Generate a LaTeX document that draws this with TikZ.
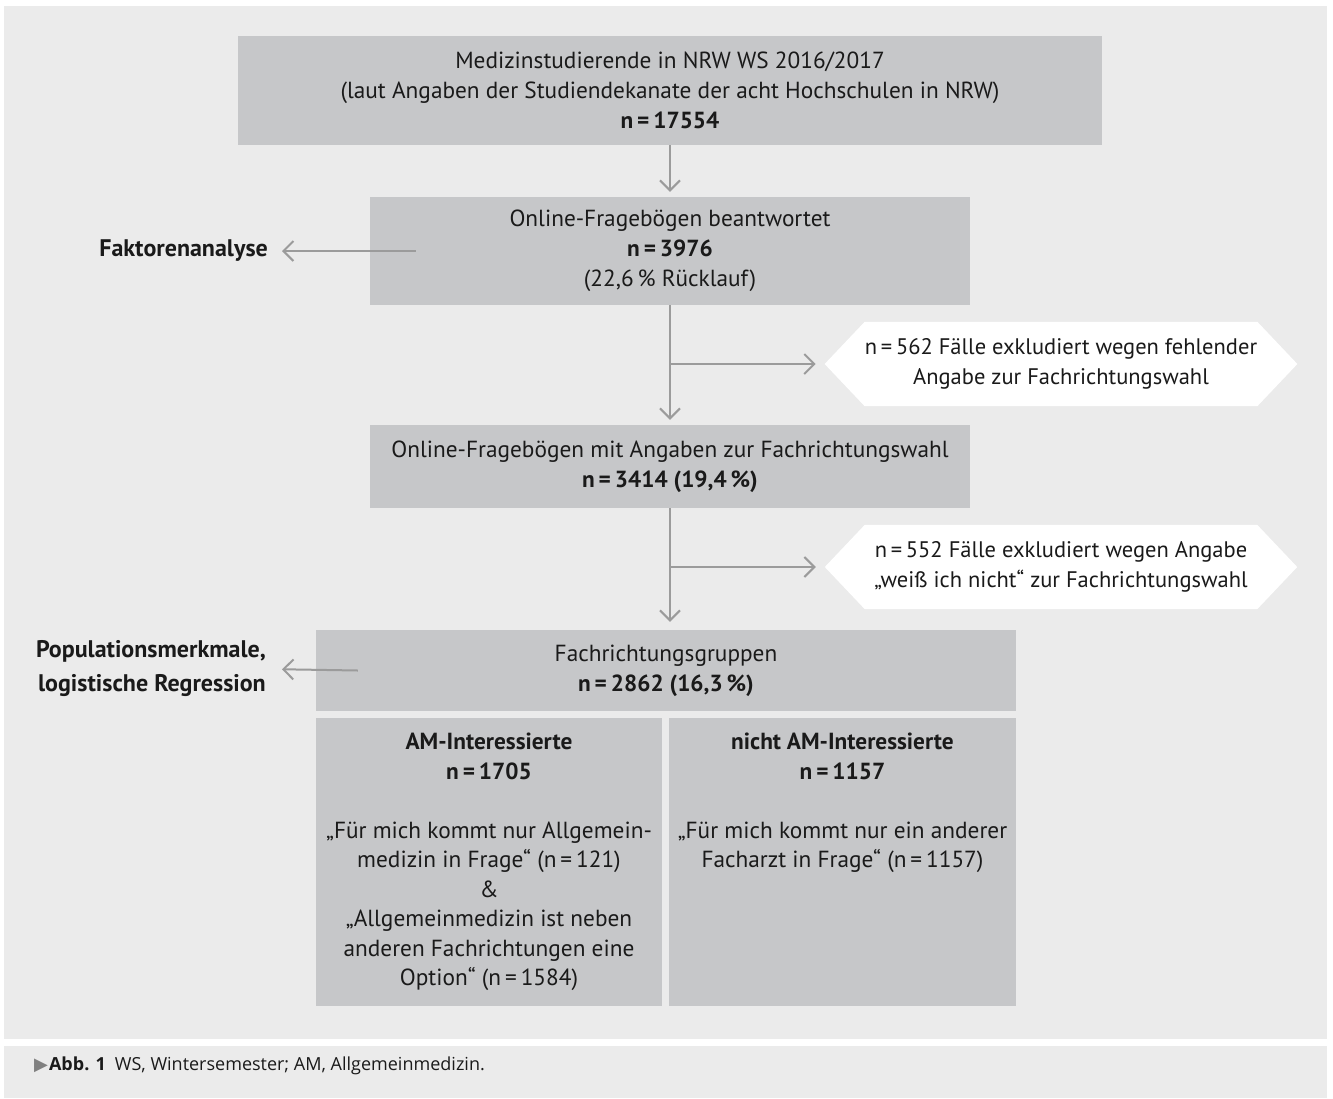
\documentclass[tikz,border=0pt]{standalone}
\usepackage{fontspec}
\setmainfont{PT Sans}
\newfontfamily\capfont{Open Sans}
\newfontfamily\symfont{DejaVu Sans}
\usetikzlibrary{arrows.meta,backgrounds}
\definecolor{panel}{HTML}{EBEBEB}
\definecolor{boxgray}{HTML}{C6C7C9}
\definecolor{arrowgray}{HTML}{9B9B9B}
\definecolor{txt}{HTML}{1A1A1A}
\begin{document}
\begin{tikzpicture}[x=1pt,y=-1pt,
  mainfont/.style={font=\fontsize{23.3}{30}\selectfont},
  box/.style={fill=boxgray, inner sep=0pt, align=center, text=txt, mainfont},
  hexbox/.style={inner sep=0pt, minimum height=84pt, minimum width=392pt, align=center, text=txt,
    font=\fontsize{22.5}{30}\selectfont},
  hexfill/.style={fill=white},
  flow/.style={draw=arrowgray, line width=2pt, -{Straight Barb[length=10pt,width=20pt,line width=2pt]}},
  side/.style={font=\fontsize{24}{34}\selectfont\bfseries, text=txt, align=right, inner sep=0pt},
  coltext/.style={inner sep=0pt, align=center, text=txt, font=\fontsize{23.3}{29.5}\selectfont}
]
\path[use as bounding box] (0,0) rectangle (1333,1098);

\node[box, minimum width=864pt, minimum height=109pt] (b1) at (670,90.5)
  {Medizinstudierende in NRW WS 2016/2017\\(laut Angaben der Studiendekanate der acht Hochschulen in NRW)\\\textbf{n\,=\,17554}};
\node[box, minimum width=600pt, minimum height=108pt] (b2) at (670,251)
  {Online-Fragebögen beantwortet\\\textbf{n\,=\,3976}\\(22,6\,\% Rücklauf)};
\node[box, minimum width=600pt, minimum height=83pt] (b3) at (670,466.5)
  {Online-Fragebögen mit Angaben zur Fachrichtungswahl\\\textbf{n\,=\,3414 (19,4\,\%)}};
\node[box, minimum width=700pt, minimum height=81pt] (b4) at (666,670.5)
  {Fachrichtungsgruppen\\\textbf{n\,=\,2862 (16,3\,\%)}};
\node[box, minimum width=346pt, minimum height=288pt] (am) at (489,862) {};
\node[box, minimum width=347pt, minimum height=288pt] (nam) at (842.5,862) {};
\node[coltext, anchor=north] (amt) at (489,733)
  {\textbf{AM-Interessierte}\\\textbf{n\,=\,1705}\\[29.5pt]„Für mich kommt nur Allgemein-\\medizin in Frage“ (n\,=\,121)\\\&\\„Allgemeinmedizin ist neben\\anderen Fachrichtungen eine\\Option“ (n\,=\,1584)};
\node[coltext, anchor=north] (namt) at (842.5,733)
  {\textbf{nicht AM-Interessierte}\\\textbf{n\,=\,1157}\\[29.5pt]„Für mich kommt nur ein anderer\\Facharzt in Frage“ (n\,=\,1157)};

\node[hexbox] (ex1) at (1061,364)
  {n\,=\,562 Fälle exkludiert wegen fehlender\\Angabe zur Fachrichtungswahl};
\node[hexbox] (ex2) at (1061,567)
  {n\,=\,552 Fälle exkludiert wegen Angabe\\„weiß ich nicht“ zur Fachrichtungswahl};
\coordinate (ex1tip) at ([xshift=-40pt]ex1.west);
\coordinate (ex2tip) at ([xshift=-40pt]ex2.west);

\begin{scope}[on background layer]
  \fill[panel] (4,6) rectangle (1327,1039);
  \fill[panel] (4,1046) rectangle (1327,1098);
  \fill[hexfill] (ex1.north west) -- (ex1.north east) -- ([xshift=40pt]ex1.east) -- (ex1.south east)
    -- (ex1.south west) -- (ex1tip) -- cycle;
  \fill[hexfill] (ex2.north west) -- (ex2.north east) -- ([xshift=40pt]ex2.east) -- (ex2.south east)
    -- (ex2.south west) -- (ex2tip) -- cycle;
\end{scope}

\node[side, anchor=east] (fa) at (268,251) {Faktorenanalyse};
\node[side, anchor=east] (pop) at (266,669) {Populationsmerkmale,\\logistische Regression};

\draw[flow, shorten >=5pt] (b1.south) -- (b2.north);
\draw[flow, shorten >=5pt] (b2.south) -- (b3.north);
\draw[flow, shorten >=9pt] (b2.south |- ex1tip) -- (ex1tip);
\draw[flow, shorten >=8pt] (b3.south -| b2.south) -- (b4.north -| b2.south);
\draw[flow, shorten >=9pt] (b2.south |- ex2tip) -- (ex2tip);
\draw[flow, shorten >=14pt] ([xshift=46pt]b2.west) -- (fa.east);
\draw[flow, shorten >=16pt] ([xshift=42pt]b4.west) -- (pop.east);

\node[anchor=west, inner sep=0pt, text=txt, font=\capfont\fontsize{18}{22}\selectfont] (cap) at (34,1066)
  {{\symfont\color{gray}\fontsize{18}{18}\selectfont ▶}\kern1pt\textbf{Abb. 1}\enspace WS, Wintersemester; AM, Allgemeinmedizin.};
\end{tikzpicture}
\end{document}
